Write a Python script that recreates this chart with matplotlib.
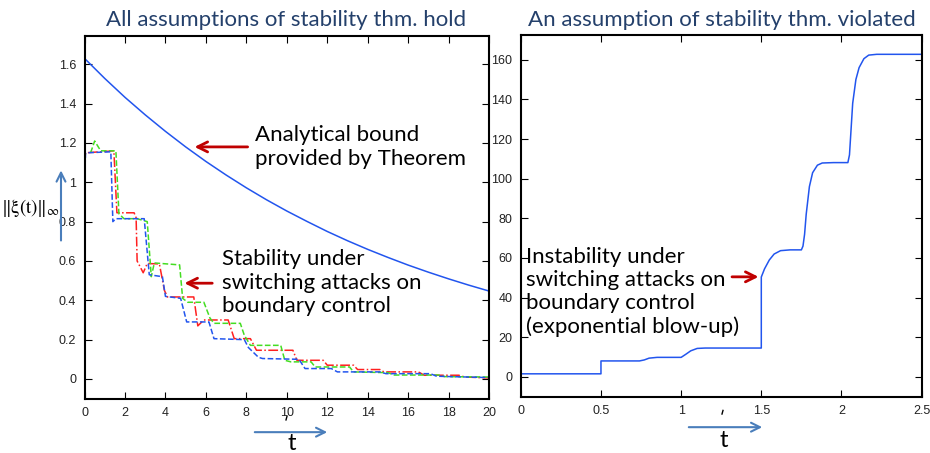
import matplotlib

matplotlib.use("Agg")
import matplotlib.pyplot as plt
from matplotlib.lines import Line2D
from matplotlib.patches import FancyArrowPatch
from matplotlib.ticker import FuncFormatter

# analytical bound (left panel), read at integer t
bound_t = list(range(0, 21))
bound_v = [1.630, 1.528, 1.432, 1.343, 1.259, 1.180, 1.106, 1.037, 0.972, 0.911,
           0.854, 0.801, 0.750, 0.703, 0.659, 0.618, 0.579, 0.543, 0.509, 0.477, 0.447]

# simulated trajectories under switching attacks (left panel)
blue_t = [0, 0.05, 1.3, 1.4, 1.55, 2.95, 3.2, 3.85, 4.0, 4.75, 5.05, 6.15, 6.4, 7.9,
          8.1, 8.6, 8.8, 10.6, 10.9, 12.2, 12.5, 14.6, 14.9, 17.1, 17.4, 20]
blue_v = [1.0, 1.15, 1.155, 0.80, 0.815, 0.815, 0.53, 0.52, 0.42, 0.41, 0.29, 0.29, 0.205, 0.20,
          0.16, 0.11, 0.104, 0.10, 0.053, 0.053, 0.036, 0.036, 0.027, 0.027, 0.014, 0.007]

red_t = [0, 0.05, 1.45, 1.6, 2.45, 2.55, 2.6, 2.9, 3.1, 3.7, 3.95, 4.1, 5.4, 5.6, 5.9, 7.1,
         7.4, 8.2, 8.5, 10.3, 10.5, 11.8, 12.0, 13.3, 13.5, 14.6, 14.8, 16.5, 16.8, 18.5, 18.8, 20]
red_v = [1.08, 1.15, 1.16, 0.845, 0.845, 0.82, 0.60, 0.54, 0.587, 0.585, 0.45, 0.417, 0.417, 0.27, 0.30, 0.30,
         0.205, 0.205, 0.146, 0.146, 0.095, 0.095, 0.07, 0.07, 0.048, 0.048, 0.036, 0.036, 0.019, 0.019, 0.01, 0.005]

green_t = [0.3, 0.5, 0.8, 1.55, 1.7, 1.95, 2.6, 3.1, 3.3, 3.45, 4.7, 4.85, 5.1, 5.9, 6.2, 6.4, 7.7,
           7.9, 8.2, 9.7, 9.9, 10.2, 11.2, 11.4, 13.1, 13.3, 15.0, 15.3, 17.5, 17.8, 20]
green_v = [1.15, 1.21, 1.16, 1.16, 0.84, 0.815, 0.815, 0.80, 0.52, 0.59, 0.58, 0.41, 0.39, 0.39, 0.31, 0.283, 0.283,
           0.222, 0.171, 0.171, 0.095, 0.087, 0.087, 0.061, 0.061, 0.036, 0.032, 0.02, 0.02, 0.012, 0.01]

# right panel: exponential blow-up trajectory
blow_t = [0, 0.5, 0.5, 0.74, 0.77, 0.80, 0.85, 1.0, 1.03, 1.06, 1.10, 1.15, 1.5, 1.5, 1.52, 1.55,
          1.58, 1.62, 1.68, 1.75, 1.76, 1.77, 1.78, 1.80, 1.82, 1.85, 1.88, 1.95, 2.04, 2.05, 2.06,
          2.07, 2.09, 2.11, 2.14, 2.17, 2.22, 2.5]
blow_v = [1.6, 1.6, 8.1, 8.1, 8.6, 9.5, 9.9, 9.9, 11.5, 13.2, 14.4, 14.6, 14.6, 50.4, 54.5, 59.0,
          62.0, 63.7, 64.1, 64.1, 66, 72, 82, 96, 103, 106.8, 107.9, 108.1, 108.1, 112, 125,
          138, 150, 156, 160.5, 162.3, 162.7, 162.7]

left_xticks = list(range(0, 21, 2))
left_yticks = [0, 0.2, 0.4, 0.6, 0.8, 1.0, 1.2, 1.4, 1.6]
right_xticks = [0, 0.5, 1, 1.5, 2, 2.5]
right_yticks = list(range(0, 161, 20))

TXT = "Lato"
TITLE_C = "#24406b"
ARROW_RED = "#c00000"
ARROW_BLUE = "#4a7ebb"
LINE_BLUE = "#2255ee"

plt.rcParams["mathtext.fontset"] = "stix"

fig = plt.figure(figsize=(9.3, 4.53), dpi=100)
ax1 = fig.add_axes([0.0909, 0.120, 0.435, 0.801])
ax2 = fig.add_axes([0.560, 0.124, 0.431, 0.799])

gfmt = FuncFormatter(lambda v, p: f"{v:g}")
for ax in (ax1, ax2):
    ax.tick_params(direction="in", top=True, right=True, labelsize=9, length=5, width=0.8,
                   pad=6, labelcolor="#222222")
    for s in ax.spines.values():
        s.set_linewidth(1.5)
    ax.xaxis.set_major_formatter(gfmt)
    ax.yaxis.set_major_formatter(gfmt)

ax1.plot(bound_t, bound_v, color=LINE_BLUE, lw=1.1)
ax1.plot(red_t, red_v, color="#ff2020", lw=1.1, ls="-.")
ax1.plot(green_t, green_v, color="#44dd22", lw=1.1, ls="--")
ax1.plot(blue_t, blue_v, color=LINE_BLUE, lw=1.1, ls="--")
ax1.set_xlim(0, 20)
ax1.set_ylim(-0.1, 1.745)
ax1.set_xticks(left_xticks)
ax1.set_yticks(left_yticks)

ax2.plot(blow_t, blow_v, color=LINE_BLUE, lw=1.1)
ax2.set_xlim(0, 2.5)
ax2.set_ylim(-10, 172.5)
ax2.set_xticks(right_xticks)
ax2.set_yticks(right_yticks)

for ax in (ax1, ax2):
    for lab in ax.get_xticklabels() + ax.get_yticklabels():
        lab.set_family("Liberation Sans")

# annotations
red_arrow = dict(arrowstyle="->", color=ARROW_RED, lw=2, mutation_scale=18)
ax1.annotate("", xy=(5.3, 1.18), xytext=(8.2, 1.18), arrowprops=red_arrow)
ax1.text(8.45, 1.18, "Analytical bound\nprovided by Theorem", fontsize=16, family=TXT,
         va="center", ha="left")
ax1.annotate("", xy=(4.8, 0.487), xytext=(6.45, 0.487), arrowprops=red_arrow)
ax1.text(6.8, 0.49, "Stability under\nswitching attacks on\nboundary control", fontsize=16,
         family=TXT, va="center", ha="left")

ax2.annotate("", xy=(1.5, 50.5), xytext=(1.30, 50.5), arrowprops=red_arrow)
ax2.text(0.03, 43, "Instability under\nswitching attacks on\nboundary control\n(exponential blow-up)",
         fontsize=16, family=TXT, va="center", ha="left")

# titles
fig.text(286 / 930, 0.9426, "All assumptions of stability thm. hold", fontsize=16, family=TXT,
         color=TITLE_C, ha="center", va="baseline")
fig.text(722 / 930, 0.9426, "An assumption of stability thm. violated", fontsize=16, family=TXT,
         color=TITLE_C, ha="center", va="baseline")

# y label with arrow
fig.text(1 / 930, 0.540, r"$\|\mathrm{\xi(t)}\|_{\infty}$", fontsize=13.5,
         ha="left", va="center")
fig.add_artist(FancyArrowPatch((61 / 930, 0.463), (61 / 930, 0.630), transform=fig.transFigure,
                               arrowstyle="->", color=ARROW_BLUE, lw=1.5, mutation_scale=16))

# t labels with arrows under each panel
fig.add_artist(FancyArrowPatch((252 / 930, 0.046), (330 / 930, 0.046), transform=fig.transFigure,
                               arrowstyle="->", color=ARROW_BLUE, lw=1.5, mutation_scale=16))
fig.text(292 / 930, 0.006, "t", fontsize=17, family=TXT, ha="center", va="baseline")
fig.add_artist(Line2D([287 / 930, 286 / 930], [0.081, 0.073], transform=fig.transFigure,
                      color="black", lw=1))

fig.add_artist(FancyArrowPatch((686 / 930, 0.057), (765 / 930, 0.057), transform=fig.transFigure,
                               arrowstyle="->", color=ARROW_BLUE, lw=1.5, mutation_scale=16))
fig.text(724 / 930, 0.014, "t", fontsize=17, family=TXT, ha="center", va="baseline")
fig.add_artist(Line2D([723 / 930, 722 / 930], [0.094, 0.086], transform=fig.transFigure,
                      color="black", lw=1))

fig.savefig("out.png", dpi=100)
